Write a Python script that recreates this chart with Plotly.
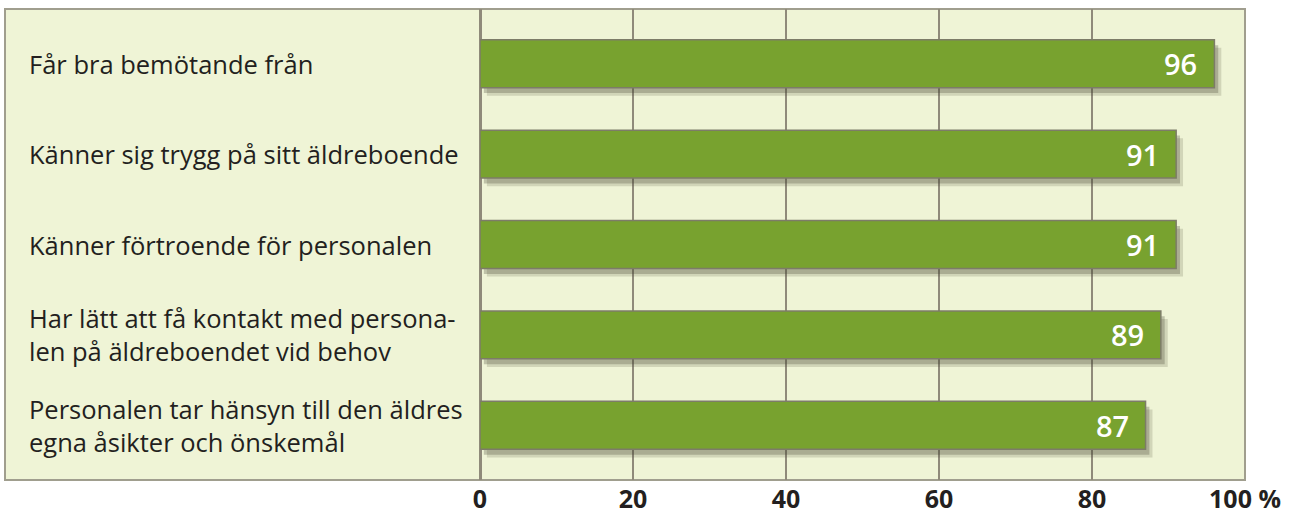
import plotly.graph_objects as go

categories = [
    "Får bra bemötande från",
    "Känner sig trygg på sitt äldreboende",
    "Känner förtroende för personalen",
    "Har lätt att få kontakt med persona-<br>len på äldreboendet vid behov",
    "Personalen tar hänsyn till den äldres<br>egna åsikter och önskemål",
]
values = [96, 91, 91, 89, 87]
tick_vals = [0, 20, 40, 60, 80, 100]
tick_text = ["0", "20", "40", "60", "80", "100 %"]

pos = list(range(len(categories)))
BG = "#eff4d6"
GRID = "#8f8a7a"
BAR = "#78a22f"
FONT = "Open Sans"

fig = go.Figure()
# soft shadows
for dx, dy, a in [(0.9, 0.09, 0.18), (0.5, 0.06, 0.28)]:
    fig.add_trace(go.Bar(
        y=[p + dy for p in pos], x=values, base=dx, orientation="h",
        width=0.53, marker=dict(color=f"rgba(70,70,50,{a})", line=dict(width=0)),
        hoverinfo="skip", showlegend=False,
    ))
fig.add_trace(go.Bar(
    y=pos, x=values, orientation="h", width=0.53,
    marker=dict(color=BAR, line=dict(color="#7d7c68", width=1.5)),
    showlegend=False,
))

for p, v in zip(pos, values):
    fig.add_annotation(x=v, y=p, xref="x", yref="y", text=str(v), showarrow=False,
                       xanchor="right", xshift=-15,
                       font=dict(family=FONT, size=29, color="white", weight=600))

for p, c in zip(pos, categories):
    fig.add_annotation(x=0, y=p, xref="paper", yref="y", text=c, showarrow=False,
                       xanchor="left", xshift=-453, align="left",
                       font=dict(family=FONT, size=25.5, color="#231f20"))

# frame / background panel
fig.add_shape(type="rect", xref="paper", yref="paper", x0=-475/765, x1=1, y0=0, y1=1,
              fillcolor=BG, line=dict(color="#a09e8e", width=2), layer="below")

fig.update_layout(
    width=1308, height=516,
    margin=dict(l=480, r=63, t=9, b=36),
    paper_bgcolor="white", plot_bgcolor=BG,
    barmode="overlay",
    xaxis=dict(range=[0, 100], tickvals=tick_vals, ticktext=tick_text,
               showgrid=True, gridcolor=GRID, gridwidth=2,
               zeroline=True, zerolinecolor=GRID, zerolinewidth=2.5,
               showline=False, ticks="", ticklabelstandoff=2, automargin=False,
               tickfont=dict(family=FONT, size=25, color="#231f20", weight="bold"),
               fixedrange=True),
    yaxis=dict(range=[4.605, -0.605], showticklabels=False, showgrid=False,
               zeroline=False, showline=False, fixedrange=True, automargin=False),
    font=dict(family=FONT),
)

fig.write_html("out.html")
